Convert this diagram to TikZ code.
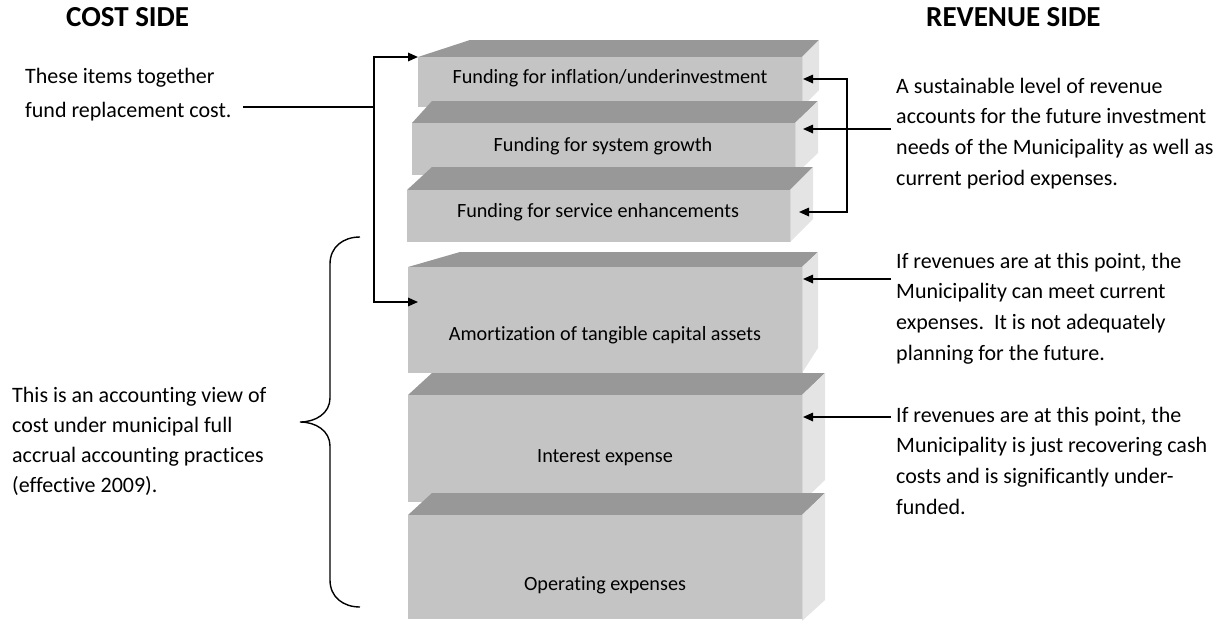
\documentclass[tikz,border=0pt]{standalone}
\usepackage{fontspec}
\setmainfont{Carlito}[Ligatures={NoCommon}]
\usetikzlibrary{arrows.meta,calc}
\definecolor{frontc}{RGB}{196,196,196}
\definecolor{topc}{RGB}{152,152,152}
\definecolor{sidec}{RGB}{228,228,228}
\definecolor{edgec}{RGB}{214,214,214}
\begin{document}
\begin{tikzpicture}[x=1pt,y=-1pt,
  front/.style={fill=frontc, draw=none, anchor=north west, inner sep=0pt},
  topface/.style={fill=topc},
  sideface/.style={fill=sidec},
  edgeline/.style={draw=edgec, line width=1pt},
  boxtext/.style={anchor=base, inner sep=0pt, font=\fontsize{20.2}{24}\selectfont},
  conn/.style={line width=1.6pt, black},
  arr/.style={conn, -{Triangle[length=10pt,width=8.5pt]}},
  note/.style={anchor=base west, inner sep=0pt, align=left},
  head/.style={anchor=base west, inner sep=0pt, font=\bfseries\fontsize{29}{34}\selectfont}]
\useasboundingbox (0,0) rectangle (1222,621);

% ---- box 1
\fill[topface] (418,57) -- (470,40) -- (819,40) -- (802,57) -- cycle;
\fill[sideface] (802,57) -- (819,40) -- (819,90) -- (802,107) -- cycle;
\node[front, minimum width=384pt, minimum height=50pt] (b1) at (418,57) {};
\draw[edgeline] (b1.north east) -- (b1.south east);
\node[boxtext] (t1) at (610,83) {Funding for inflation/underinvestment};
% ---- box 2
\fill[topface] (412,123) -- (432,101) -- (818,101) -- (795,123) -- cycle;
\fill[sideface] (795,123) -- (818,101) -- (818,153) -- (795,175) -- cycle;
\node[front, minimum width=383pt, minimum height=52pt] (b2) at (412,123) {};
\draw[edgeline] (b2.north east) -- (b2.south east);
\node[boxtext] (t2) at (603,151) {Funding for system growth};
% ---- box 3
\fill[topface] (407,190) -- (432,167) -- (813,167) -- (790,190) -- cycle;
\fill[sideface] (790,190) -- (813,167) -- (813,219) -- (790,242) -- cycle;
\node[front, minimum width=383pt, minimum height=52pt] (b3) at (407,190) {};
\draw[edgeline] (b3.north east) -- (b3.south east);
\node[boxtext] (t3) at (598,217) {Funding for service enhancements};
% ---- box 4
\fill[topface] (408,267) -- (460,252) -- (818,252) -- (802,267) -- cycle;
\fill[sideface] (802,267) -- (818,252) -- (818,348) -- (802,373) -- cycle;
\node[front, minimum width=394pt, minimum height=106pt] (b4) at (408,267) {};
\draw[edgeline] (b4.north east) -- (b4.south east);
\node[boxtext] (t4) at (605,340) {Amortization of tangible capital assets};
% ---- box 5
\fill[topface] (408,395) -- (432,373) -- (825,373) -- (802,395) -- cycle;
\fill[sideface] (802,395) -- (825,373) -- (825,480) -- (802,502) -- cycle;
\node[front, minimum width=394pt, minimum height=107pt] (b5) at (408,395) {};
\draw[edgeline] (b5.north east) -- (b5.south east);
\node[boxtext] (t5) at (605,462) {Interest expense};
% ---- box 6
\fill[topface] (408,515) -- (432,493) -- (825,493) -- (802,515) -- cycle;
\fill[sideface] (802,515) -- (825,493) -- (825,600) -- (802,621) -- cycle;
\node[front, minimum width=394pt, minimum height=104pt] (b6) at (408,515) {};
\draw[edgeline] (b6.north east) -- (b6.south east);
\node[boxtext] (t6) at (605,590) {Operating expenses};

% ---- headings
\node[head] (hcost) at (66,27) {COST SIDE};
\node[head] (hrev) at (926,27) {REVENUE SIDE};

% ---- notes
\node[note, font=\fontsize{22}{34}\selectfont] (ntop) at (25,83)
  {\vtop{\hbox{These items together}\hbox{fund replacement cost.}}};
\node[note, font=\fontsize{22}{30}\selectfont] (nacc) at (12,402)
  {\vtop{\hbox{This is an accounting view of}\hbox{cost under municipal full}\hbox{accrual accounting practices}\hbox{(effective 2009).}}};
\node[note, font=\fontsize{22}{30.7}\selectfont] (nsus) at (896,93)
  {\vtop{\hbox{A sustainable level of revenue}\hbox{accounts for the future investment}\hbox{needs of the Municipality as well as}\hbox{current period expenses.}}};
\node[note, font=\fontsize{22}{30.7}\selectfont] (ncur) at (896,268)
  {\vtop{\hbox{If revenues are at this point, the}\hbox{Municipality can meet current}\hbox{expenses.\ \ It is not adequately}\hbox{planning for the future.}}};
\node[note, font=\fontsize{22}{30.7}\selectfont] (ncash) at (896,422)
  {\vtop{\hbox{If revenues are at this point, the}\hbox{Municipality is just recovering cash}\hbox{costs and is significantly under-}\hbox{funded.}}};

% ---- connector end points
\coordinate (lstart) at (243,107);
\coordinate (ljoin) at (374,107);
\coordinate (tip4) at (418,302);
\coordinate (rjoin) at (847,129);
\coordinate (rstart) at (891,129);
\coordinate (tip1) at (803,79);
\coordinate (tip2) at (803,129);
\coordinate (tip3) at (799,212);
\coordinate (s4) at (891,279);
\coordinate (e4) at (803,279);
\coordinate (s5) at (891,417);
\coordinate (e5) at (803,417);

% ---- left connectors
\draw[conn] (lstart) -- (ljoin);
\draw[arr] (ljoin) |- (b1.north west);
\draw[arr] (ljoin) |- (tip4);

% ---- right connectors
\draw[arr] (rstart) -- (tip2);
\draw[arr] (rjoin) |- (tip1);
\draw[arr] (rjoin) |- (tip3);
\draw[arr] (s4) -- (e4);
\draw[arr] (s5) -- (e5);

% ---- brace
\draw[line width=1.4pt] (360,237) .. controls (343,237) and (330,247) .. (330,264)
  -- (330,398) .. controls (330,413) and (316,422) .. (300,422)
  .. controls (316,422) and (330,431) .. (330,446)
  -- (330,580) .. controls (330,597) and (343,607) .. (360,607);
\end{tikzpicture}
\end{document}
